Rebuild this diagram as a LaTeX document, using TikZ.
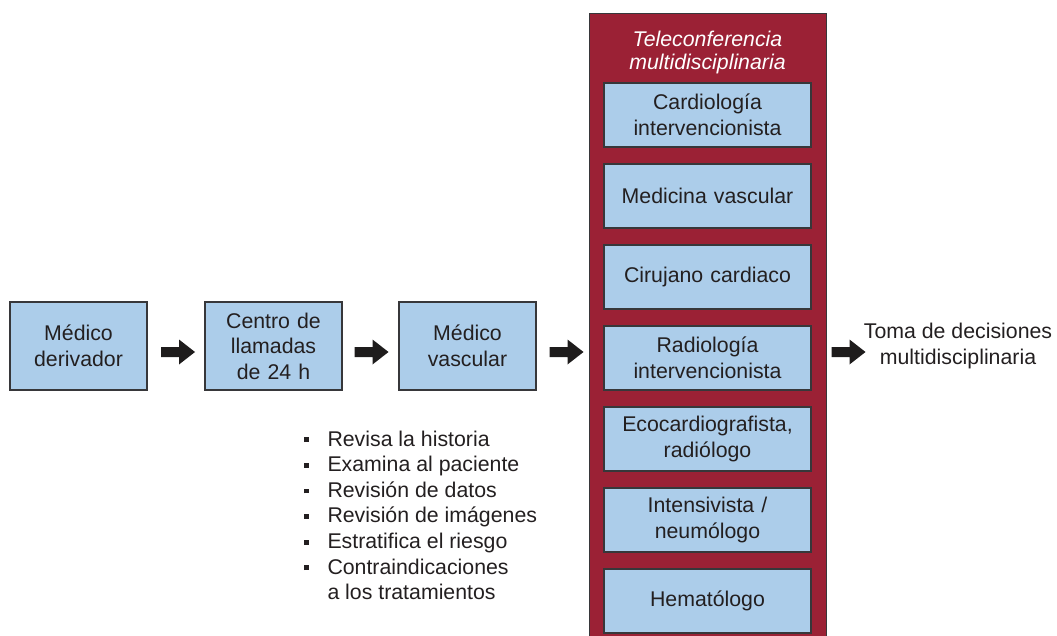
\documentclass[tikz,border=0pt]{standalone}
\usepackage{fontspec}
\setmainfont{Liberation Sans}
\definecolor{boxblue}{RGB}{172,205,234}
\definecolor{confred}{RGB}{155,33,53}
\definecolor{edgegray}{RGB}{55,55,58}
\definecolor{txt}{RGB}{35,31,32}
\definecolor{arrowfill}{RGB}{30,28,28}
\begin{document}
\begin{tikzpicture}[x=1pt,y=-1pt,
  every node/.style={font=\fontsize{21.3}{25.6}\selectfont, text=txt},
  bluebox/.style={draw=edgegray, line width=1.3pt, fill=boxblue, inner sep=0pt, align=center},
  leftbox/.style={bluebox, minimum width=137pt, minimum height=88pt, text width=135pt},
  teambox/.style={bluebox, minimum width=207pt, minimum height=64pt, text width=205pt},
  blockarrow/.pic={\fill[arrowfill] (-17,-5) -- (1,-5) -- (1,-12.5) -- (17,0)
      -- (1,12.5) -- (1,5) -- (-17,5) -- cycle;}
]
\useasboundingbox (0,0) rectangle (1057,636);

% left chain
\node[leftbox] (b1) at (78.5,346) {Médico\\derivador};
\node[leftbox] (b2) at (273.5,346) {Centro de\\llamadas\\de 24 h};
\node[leftbox] (b3) at (467.5,346) {Médico\\vascular};

% teleconference container
\node[draw=edgegray, line width=1.3pt, fill=confred, minimum width=237pt,
      minimum height=630pt, anchor=north west, inner sep=0pt] (conf) at (589,13) {};
\node[text=white, align=center, font=\fontsize{21.3}{23}\selectfont\itshape] (title) at (707.5,52)
  {Teleconferencia\\multidisciplinaria};

\node[teambox] (t1) at (707.5,115) {Cardiología\\intervencionista};
\node[teambox] (t2) at (707.5,196) {Medicina vascular};
\node[teambox] (t3) at (707.5,277) {Cirujano cardiaco};
\node[teambox] (t4) at (707.5,358) {Radiología\\intervencionista};
\node[teambox] (t5) at (707.5,439) {Ecocardiografista,\\radiólogo};
\node[teambox] (t6) at (707.5,520) {Intensivista /\\neumólogo};
\node[teambox] (t7) at (707.5,601) {Hematólogo};

% outcome
\node[align=center] (out) at (958,346) {Toma de decisiones\\multidisciplinaria};

% block arrows
\coordinate (a1) at (178,352);
\coordinate (a2) at (371.5,352);
\coordinate (a3) at (566.5,352);
\coordinate (a4) at (848.5,352);
\pic at (a1) {blockarrow};
\pic at (a2) {blockarrow};
\pic at (a3) {blockarrow};
\pic at (a4) {blockarrow};

% task list
\node[anchor=north west, inner sep=0pt] (tasks) at (303.5,428) {%
  \begin{tabular}{@{}l@{\hspace{19pt}}l@{}}
  \raisebox{4pt}{\rule{4.8pt}{4.8pt}} & Revisa la historia\\
  \raisebox{4pt}{\rule{4.8pt}{4.8pt}} & Examina al paciente\\
  \raisebox{4pt}{\rule{4.8pt}{4.8pt}} & Revisión de datos\\
  \raisebox{4pt}{\rule{4.8pt}{4.8pt}} & Revisión de imágenes\\
  \raisebox{4pt}{\rule{4.8pt}{4.8pt}} & Estratifica el riesgo\\
  \raisebox{4pt}{\rule{4.8pt}{4.8pt}} & Contraindicaciones\\
   & a los tratamientos
  \end{tabular}};
\end{tikzpicture}
\end{document}
